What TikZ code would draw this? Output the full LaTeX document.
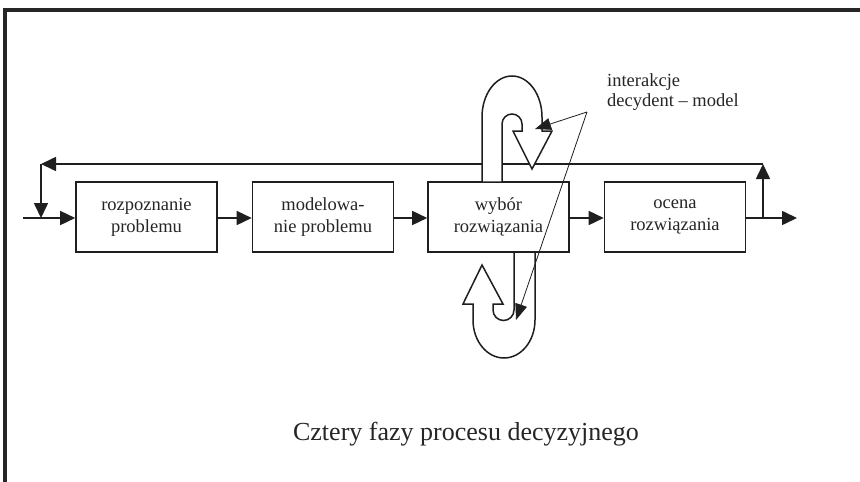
\documentclass[tikz,border=0pt]{standalone}
\usepackage{fontspec}
\setmainfont{Liberation Serif}
\usetikzlibrary{arrows.meta}
\begin{document}
\begin{tikzpicture}[x=1pt,y=-1pt,
  ink/.style={draw=black!88},
  boxnode/.style={ink, line width=1.6pt, minimum width=141pt, minimum height=70pt, inner sep=0pt, align=center, font=\fontsize{18.5}{22}\selectfont, text=black!85},
  flow/.style={ink, line width=1.6pt, -{Triangle[length=15pt,width=14pt]}},
  blockarrow/.style={ink, line width=1.5pt, fill=white, line join=miter},
  note/.style={ink, line width=0.8pt, -{Triangle[length=16pt,width=12pt]}}]
\useasboundingbox (0,0) rectangle (860,482);
\fill[white] (0,0) rectangle (860,482);
% frame
\draw[black!85, line width=4pt] (5,482) -- (5,10) -- (860,10);
% boxes
\node[boxnode] (b1) at (146.5,217) {rozpoznanie\\problemu};
\node[boxnode] (b2) at (323,217) {modelowa-\\nie problemu};
\node[boxnode] (b3) at (498.5,217) {wybór\\rozwiązania};
\node[boxnode] (b4) at (675,217) {ocena\\rozwiązania};
% coordinates
\coordinate (in) at (23,218);
\coordinate (fbL) at (41,218);
\coordinate (cL) at (41,164);
\coordinate (cR) at (763,164);
\coordinate (fbR) at (763,218);
\coordinate (out) at (797,218);
\coordinate (v) at (587,112);
\coordinate (t1) at (535,129);
\coordinate (t2) at (516,320);
% flow arrows
\draw[flow] (in) -- (b1.west |- in);
\draw[flow] (b1.east |- in) -- (b2.west |- in);
\draw[flow] (b2.east |- in) -- (b3.west |- in);
\draw[flow] (b3.east |- in) -- (b4.west |- in);
\draw[flow] (b4.east |- in) -- (out);
% feedback
\draw[flow] (fbR) -- (cR);
\draw[flow] (cR) -- (cL);
\draw[flow] (cL) -- (fbL);
% top block arrow
\draw[blockarrow] (482,182) -- (482,117)
  .. controls (482,94.4) and (495.4,76) .. (512,76)
  .. controls (528.6,76) and (542,94.4) .. (542,117)
  -- (542,131) -- (552,131) -- (532,169) -- (513,131) -- (522,131) -- (522,124)
  .. controls (522,118.5) and (517.5,114) .. (512,114)
  .. controls (506.5,114) and (502,118.5) .. (502,124)
  -- (502,182) -- cycle;
% bottom block arrow
\draw[blockarrow] (535,252) -- (535,320)
  .. controls (535,341) and (521.1,358) .. (504,358)
  .. controls (486.9,358) and (473,341) .. (473,320)
  -- (473,304) -- (463,304) -- (482,265) -- (503,304) -- (493,304) -- (493,310)
  .. controls (493,315.8) and (497.7,320.5) .. (503.5,320.5)
  .. controls (509.3,320.5) and (514,315.8) .. (514,310)
  -- (514,252) -- cycle;
% annotation
\draw[note] (v) -- (t1);
\draw[note] (v) -- (t2);
\node[anchor=base west, inner sep=0pt, align=left, font=\fontsize{18.5}{20}\selectfont, text=black!85] (lbl) at (607,106) {interakcje\\decydent – model};
% caption
\node[anchor=base, inner sep=0pt, font=\fontsize{26}{30}\selectfont, text=black!85] (cap) at (466,440) {Cztery fazy procesu decyzyjnego};
\end{tikzpicture}
\end{document}
